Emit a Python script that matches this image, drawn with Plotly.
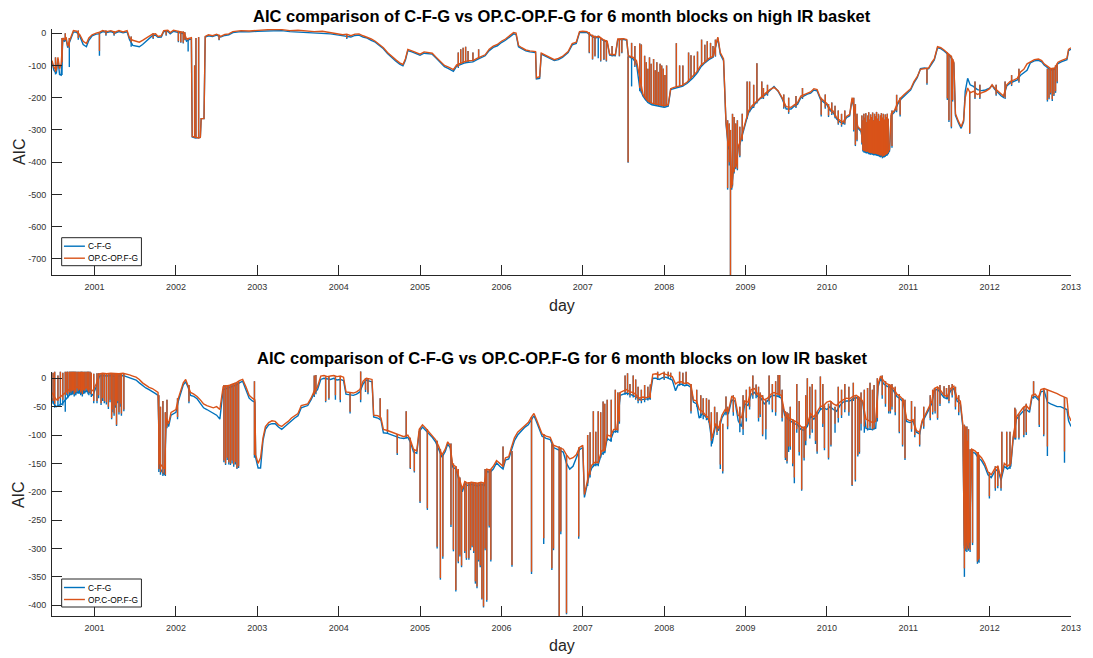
import plotly.graph_objects as go

# ---------------- TOP PANEL (high IR basket) : baseline ----------------
hi_day = [2000.477, 2000.50, 2000.53, 2000.55, 2000.57, 2000.59, 2000.61, 2000.63, 2000.65, 2000.67,
          2000.69, 2000.71, 2000.74, 2000.78, 2000.82, 2000.86, 2000.90, 2000.93, 2000.97, 2001.02,
          2001.05, 2001.10, 2001.15, 2001.20, 2001.25, 2001.30, 2001.35, 2001.40, 2001.43, 2001.47,
          2001.51, 2001.55, 2001.59, 2001.63, 2001.67, 2001.71, 2001.75, 2001.78, 2001.82, 2001.85,
          2001.90, 2001.93, 2001.97, 2002.01, 2002.05, 2002.10, 2002.13, 2002.16, 2002.19, 2002.20,
          2002.24, 2002.28, 2002.30, 2002.31, 2002.345, 2002.36, 2002.40, 2002.45, 2002.50, 2002.55,
          2002.60, 2002.65, 2002.70, 2002.80, 2002.90, 2003.00, 2003.10, 2003.20, 2003.30, 2003.40,
          2003.50, 2003.60, 2003.70, 2003.80, 2003.90, 2004.00, 2004.05, 2004.10, 2004.15, 2004.20,
          2004.25, 2004.30, 2004.35, 2004.40, 2004.45, 2004.50, 2004.55, 2004.60, 2004.65, 2004.70,
          2004.75, 2004.79, 2004.82, 2004.85, 2004.90, 2004.95, 2005.00, 2005.05, 2005.10, 2005.15,
          2005.20, 2005.25, 2005.30, 2005.35, 2005.41, 2005.45, 2005.50, 2005.55, 2005.60, 2005.65,
          2005.70, 2005.75, 2005.80, 2005.85, 2005.90, 2005.95, 2006.00, 2006.05, 2006.10, 2006.15,
          2006.18, 2006.21, 2006.25, 2006.30, 2006.35, 2006.42, 2006.43, 2006.47, 2006.49, 2006.55,
          2006.60, 2006.65, 2006.70, 2006.75, 2006.82, 2006.87, 2006.92, 2006.96, 2007.00, 2007.05,
          2007.10, 2007.15, 2007.20, 2007.25, 2007.30, 2007.33, 2007.40, 2007.43, 2007.50, 2007.54,
          2007.56, 2007.62, 2007.66, 2007.70, 2007.74, 2007.80, 2007.85, 2007.90, 2007.95, 2008.00,
          2008.05, 2008.08, 2008.12, 2008.17, 2008.22, 2008.28, 2008.35, 2008.40, 2008.45, 2008.50,
          2008.55, 2008.60, 2008.66, 2008.69, 2008.73, 2008.76, 2008.79, 2008.81, 2008.83, 2008.85,
          2008.87, 2008.89, 2008.91, 2008.93, 2008.95, 2008.98, 2009.01, 2009.04, 2009.08, 2009.12,
          2009.16, 2009.20, 2009.25, 2009.30, 2009.35, 2009.40, 2009.45, 2009.50, 2009.56, 2009.60,
          2009.64, 2009.68, 2009.72, 2009.76, 2009.80, 2009.84, 2009.88, 2009.92, 2009.96, 2010.00,
          2010.04, 2010.08, 2010.12, 2010.16, 2010.20, 2010.24, 2010.28, 2010.31, 2010.34, 2010.38,
          2010.42, 2010.46, 2010.50, 2010.55, 2010.60, 2010.65, 2010.70, 2010.74, 2010.77, 2010.79,
          2010.83, 2010.87, 2010.91, 2010.95, 2010.99, 2011.03, 2011.07, 2011.11, 2011.15, 2011.20,
          2011.25, 2011.29, 2011.32, 2011.36, 2011.40, 2011.44, 2011.48, 2011.52, 2011.56, 2011.58,
          2011.62, 2011.65, 2011.68, 2011.70, 2011.73, 2011.76, 2011.80, 2011.85, 2011.90, 2011.95,
          2012.00, 2012.03, 2012.06, 2012.10, 2012.14, 2012.17, 2012.21, 2012.25, 2012.30, 2012.34,
          2012.38, 2012.42, 2012.46, 2012.50, 2012.55, 2012.60, 2012.64, 2012.67, 2012.70, 2012.75,
          2012.80, 2012.84, 2012.88, 2012.92, 2012.95, 2012.97, 2013.00]
hi_op = [-85, -105, -115, -75, -110, -95, -15, -20, -12, -40,
         -25, -10, 8, 6, -5, -25, -32, -15, -5, 0,
         2, 8, 5, 8, 3, 8, 4, 8, -15, -22,
         -25, -28, -22, -15, -10, -3, -2, -10, -8, 8,
         9, 2, 9, 7, 5, 2, -18, -15, -14, -320,
         -322, -325, -323, -265, -265, -10, -5, -8, -3, -10,
         -4, -2, 5, 8, 7, 9, 10, 12, 11, 8,
         9, 7, 5, 6, 2, -2, -5, -3, -8, -3,
         -2, -8, -12, -18, -25, -35, -45, -60, -72, -82,
         -92, -97, -80, -50, -55, -60, -65, -58, -60, -62,
         -75, -88, -100, -105, -113, -98, -92, -88, -85, -85,
         -78, -72, -67, -50, -40, -35, -25, -18, -8, 2,
         0, -38, -45, -52, -55, -57, -138, -135, -62, -70,
         -77, -82, -78, -72, -57, -32, -28, 5, 6, 5,
         -5, -12, -10, -20, -25, -65, -67, -18, -17, -20,
         -70, -75, -85, -140, -190, -210, -217, -220, -222, -225,
         -222, -172, -168, -165, -162, -152, -135, -120, -100, -88,
         -78, -72, -12, -60, -80, -275, -350, -330, -480, -420,
         -415, -400, -350, -340, -320, -290, -265, -240, -225, -215,
         -205, -195, -185, -175, -168, -178, -200, -228, -230, -222,
         -215, -195, -190, -185, -182, -172, -175, -200, -210, -218,
         -235, -242, -262, -270, -275, -258, -252, -200, -240, -290,
         -300, -360, -365, -370, -372, -375, -378, -372, -360, -250,
         -240, -215, -200, -190, -180, -172, -150, -135, -112, -110,
         -108, -90, -80, -42, -45, -52, -60, -70, -90, -250,
         -275, -290, -270, -200, -170, -185, -180, -190, -185, -180,
         -172, -160, -170, -180, -190, -195, -160, -150, -145, -140,
         -120, -112, -95, -88, -82, -80, -85, -95, -100, -110,
         -108, -90, -85, -82, -78, -50, -45]
hi_cfg = [-90, -115, -125, -80, -128, -130, -20, -25, -18, -45,
          -30, -15, 4, 3, -10, -35, -42, -22, -8, -3,
          -2, 5, 2, 5, 0, 5, 1, 4, -20, -38,
          -40, -42, -35, -25, -15, -8, -6, -13, -12, 5,
          6, -2, 6, 4, 2, -2, -25, -20, -18, -322,
          -325, -325, -323, -265, -265, -12, -8, -10, -6, -12,
          -7, -5, 2, 5, 4, 6, 7, 9, 8, 5,
          4, 3, 2, 0, -2, -6, -8, -8, -12, -7,
          -6, -12, -15, -22, -28, -38, -48, -63, -76, -86,
          -96, -101, -84, -54, -58, -63, -68, -62, -63, -65,
          -78, -92, -104, -110, -118, -102, -96, -92, -90, -89,
          -82, -76, -70, -54, -44, -39, -29, -22, -12, -2,
          -4, -42, -48, -55, -58, -60, -142, -140, -65, -73,
          -80, -85, -82, -75, -60, -36, -32, 2, 3, 2,
          -8, -15, -12, -22, -28, -68, -70, -20, -19, -22,
          -72, -80, -95, -170, -195, -215, -222, -225, -227, -230,
          -226, -175, -172, -168, -165, -156, -140, -125, -105, -92,
          -82, -75, -15, -65, -85, -280, -360, -340, -485, -425,
          -420, -405, -355, -345, -325, -295, -270, -245, -230, -218,
          -208, -198, -190, -178, -165, -180, -203, -235, -235, -226,
          -220, -200, -194, -189, -186, -176, -179, -204, -214, -222,
          -240, -247, -266, -275, -280, -262, -256, -204, -244, -294,
          -305, -365, -370, -374, -376, -380, -382, -376, -365, -255,
          -245, -220, -205, -195, -185, -176, -154, -138, -110, -108,
          -110, -93, -83, -45, -48, -55, -63, -73, -93, -255,
          -280, -295, -275, -180, -140, -160, -165, -175, -178, -176,
          -170, -162, -173, -184, -194, -199, -164, -155, -150, -145,
          -130, -122, -115, -92, -86, -84, -89, -99, -104, -114,
          -112, -94, -89, -86, -82, -54, -50]

# ---------------- TOP PANEL : single-day jumps ----------------
hs_day = [2000.52, 2000.60, 2000.64, 2000.69, 2000.80, 2001.06, 2001.14, 2001.24, 2001.45, 2001.72,
          2001.88, 2002.03, 2002.06, 2002.09, 2002.11, 2002.15, 2002.23, 2002.246, 2002.279, 2002.53,
          2004.10, 2005.47, 2005.50, 2005.53, 2005.56, 2005.59, 2005.65, 2005.72, 2007.08, 2007.12,
          2007.15, 2007.19, 2007.22, 2007.26, 2007.29, 2007.36, 2007.45, 2007.48, 2007.557, 2007.60,
          2007.64, 2007.70, 2007.72, 2007.76, 2007.78, 2007.80, 2007.82, 2007.84, 2007.87, 2007.89,
          2007.91, 2007.93, 2007.95, 2007.97, 2007.99, 2008.01, 2008.03, 2008.15, 2008.19, 2008.23,
          2008.30, 2008.33, 2008.37, 2008.41, 2008.46, 2008.50, 2008.53, 2008.57, 2008.60, 2008.63,
          2008.78, 2008.80, 2008.815, 2008.84, 2008.86, 2008.88, 2008.90, 2008.93, 2008.96, 2009.02,
          2009.05, 2009.10, 2009.14, 2009.20, 2009.93, 2010.02, 2010.33, 2010.35, 2010.37, 2010.43,
          2010.442, 2010.454, 2010.466, 2010.478, 2010.49, 2010.502, 2010.514, 2010.526, 2010.538, 2010.55,
          2010.562, 2010.574, 2010.586, 2010.598, 2010.61, 2010.622, 2010.634, 2010.646, 2010.658, 2010.67,
          2010.682, 2010.694, 2010.706, 2010.718, 2010.73, 2010.742, 2010.754, 2010.80, 2010.857, 2010.90,
          2011.23, 2011.48, 2011.50, 2011.53, 2011.545, 2011.755, 2012.71, 2012.73, 2012.75, 2012.77,
          2012.79, 2012.81, 2012.83,
          2009.22, 2009.27, 2009.47, 2009.53, 2009.62, 2009.70, 2009.98, 2010.06, 2010.10, 2010.14,
          2010.18, 2010.22, 2011.82, 2011.88, 2012.08, 2012.19, 2012.27, 2012.36]
hs_top = [-75, -15, 0, -15, 8, 0, 8, 6, -10, 0,
          8, 7, 5, 5, 3, -15, -100, -15, -12, -5,
          -3, -60, -50, -45, -42, -55, -60, -50, 3, -5,
          -8, -8, -15, -20, -22, -40, -18, -17, -72, -30,
          -40, -32, -35, -70, -90, -110, -75, -95, -80, -115,
          -90, -120, -95, -100, -110, -130, -100, -31, -100, -100,
          -60, -68, -70, -57, -20, -36, -25, -30, -40, -20,
          -270, -280, -300, -250, -260, -280, -270, -290, -250, -150,
          -150, -160, -93, -150, -200, -220, -200, -220, -250, -255,
          -270, -250, -262, -248, -275, -255, -245, -268, -252, -260,
          -246, -270, -250, -258, -244, -265, -250, -272, -255, -248,
          -262, -250, -268, -252, -260, -250, -265, -240, -191, -200,
          -109, -60, -65, -70, -80, -180, -110, -110, -110, -110,
          -108, -100, -95,
          -170, -160, -190, -200, -195, -170, -190, -215, -225, -240,
          -250, -240, -150, -160, -160, -150, -130, -110]
hs_op = [-120, -90, -20, -45, -15, -55, -5, -5, -28, -15,
         -5, -25, -28, -30, -20, -22, -322, -322, -325, -20,
         -15, -105, -95, -92, -90, -88, -85, -78, -60, -80,
         -70, -15, -85, -80, -85, -70, -70, -60, -400, -78,
         -100, -170, -180, -200, -205, -210, -212, -215, -218, -220,
         -221, -222, -222, -223, -225, -225, -224, -166, -164, -162,
         -148, -140, -130, -118, -98, -88, -82, -76, -72, -70,
         -480, -400, -750, -470, -430, -415, -420, -380, -330, -260,
         -240, -228, -215, -200, -253, -255, -300, -346, -330, -340,
         -362, -365, -366, -367, -368, -366, -370, -371, -372, -370,
         -372, -374, -373, -372, -374, -376, -375, -378, -380, -378,
         -383, -380, -380, -378, -375, -374, -370, -350, -240, -253,
         -155, -202, -270, -290, -207, -310, -207, -200, -185, -205,
         -190, -180, -150,
         -200, -190, -230, -245, -228, -200, -230, -250, -260, -280,
         -285, -280, -200, -200, -190, -200, -160, -150]
hs_cfg = [-128, -130, -25, -105, -20, -70, -8, -8, -42, -18,
          -8, -28, -30, -32, -22, -57, -325, -325, -326, -22,
          -18, -108, -98, -95, -93, -91, -88, -80, -62, -82,
          -72, -78, -88, -83, -88, -72, -72, -62, -402, -165,
          -105, -180, -185, -205, -210, -215, -217, -220, -222, -224,
          -225, -226, -227, -228, -229, -230, -228, -170, -167, -165,
          -152, -145, -135, -123, -102, -92, -86, -80, -75, -73,
          -485, -410, -750, -475, -435, -420, -425, -385, -335, -265,
          -245, -232, -218, -203, -258, -260, -305, -350, -335, -345,
          -367, -370, -371, -372, -373, -371, -375, -376, -377, -375,
          -377, -379, -378, -377, -379, -381, -380, -383, -385, -383,
          -388, -385, -385, -383, -380, -379, -375, -355, -245, -258,
          -160, -207, -275, -295, -212, -312, -212, -205, -190, -210,
          -195, -185, -155,
          -204, -194, -234, -250, -232, -204, -234, -254, -264, -284,
          -290, -284, -204, -204, -194, -204, -164, -154]

# ---------------- BOTTOM PANEL (low IR basket) : baseline ----------------
lo_day = [2000.477, 2000.50, 2000.53, 2000.56, 2000.60, 2000.63, 2000.66, 2000.70, 2000.74, 2000.78,
          2000.82, 2000.86, 2000.90, 2000.94, 2000.98, 2001.02, 2001.06, 2001.10, 2001.15, 2001.20,
          2001.25, 2001.30, 2001.35, 2001.39, 2001.43, 2001.47, 2001.51, 2001.55, 2001.59, 2001.63,
          2001.67, 2001.71, 2001.75, 2001.78, 2001.80, 2001.83, 2001.86, 2001.88, 2001.91, 2001.94,
          2001.97, 2002.00, 2002.03, 2002.06, 2002.09, 2002.12, 2002.15, 2002.18, 2002.22, 2002.26,
          2002.30, 2002.34, 2002.38, 2002.42, 2002.46, 2002.50, 2002.54, 2002.58, 2002.62, 2002.66,
          2002.70, 2002.74, 2002.78, 2002.82, 2002.86, 2002.90, 2002.94, 2002.97, 2002.98, 2003.01,
          2003.04, 2003.07, 2003.10, 2003.14, 2003.18, 2003.22, 2003.26, 2003.30, 2003.34, 2003.38,
          2003.42, 2003.46, 2003.50, 2003.54, 2003.58, 2003.62, 2003.66, 2003.70, 2003.74, 2003.78,
          2003.82, 2003.86, 2003.90, 2003.94, 2003.98, 2004.02, 2004.06, 2004.09, 2004.14, 2004.18,
          2004.22, 2004.26, 2004.30, 2004.34, 2004.38, 2004.41, 2004.43, 2004.48, 2004.52, 2004.55,
          2004.60, 2004.65, 2004.70, 2004.75, 2004.80, 2004.85, 2004.88, 2004.92, 2004.96, 2004.99,
          2005.03, 2005.07, 2005.11, 2005.15, 2005.19, 2005.23, 2005.27, 2005.31, 2005.34, 2005.37,
          2005.40, 2005.44, 2005.48, 2005.52, 2005.55, 2005.59, 2005.63, 2005.67, 2005.71, 2005.75,
          2005.79, 2005.82, 2005.86, 2005.90, 2005.94, 2005.98, 2006.02, 2006.05, 2006.09, 2006.12,
          2006.16, 2006.20, 2006.25, 2006.29, 2006.33, 2006.37, 2006.40, 2006.43, 2006.47, 2006.50,
          2006.55, 2006.60, 2006.64, 2006.68, 2006.72, 2006.76, 2006.80, 2006.84, 2006.88, 2006.92,
          2006.96, 2007.00, 2007.02, 2007.05, 2007.08, 2007.11, 2007.15, 2007.19, 2007.23, 2007.27,
          2007.30, 2007.34, 2007.38, 2007.42, 2007.46, 2007.50, 2007.54, 2007.58, 2007.62, 2007.66,
          2007.70, 2007.74, 2007.78, 2007.82, 2007.86, 2007.90, 2007.94, 2007.98, 2008.02, 2008.06,
          2008.10, 2008.14, 2008.17, 2008.21, 2008.25, 2008.29, 2008.33, 2008.36, 2008.40, 2008.43,
          2008.47, 2008.51, 2008.55, 2008.59, 2008.63, 2008.67, 2008.71, 2008.75, 2008.79, 2008.83,
          2008.87, 2008.91, 2008.95, 2008.99, 2009.03, 2009.07, 2009.11, 2009.15, 2009.19, 2009.23,
          2009.27, 2009.31, 2009.35, 2009.40, 2009.44, 2009.48, 2009.52, 2009.56, 2009.60, 2009.64,
          2009.68, 2009.72, 2009.76, 2009.80, 2009.84, 2009.88, 2009.92, 2009.96, 2010.00, 2010.04,
          2010.08, 2010.12, 2010.16, 2010.20, 2010.24, 2010.28, 2010.32, 2010.36, 2010.40, 2010.44,
          2010.48, 2010.52, 2010.56, 2010.60, 2010.63, 2010.66, 2010.70, 2010.74, 2010.78, 2010.82,
          2010.86, 2010.90, 2010.94, 2010.98, 2011.02, 2011.06, 2011.10, 2011.14, 2011.17, 2011.21,
          2011.25, 2011.29, 2011.32, 2011.36, 2011.40, 2011.44, 2011.48, 2011.52, 2011.56, 2011.60,
          2011.64, 2011.67, 2011.69, 2011.72, 2011.75, 2011.78, 2011.82, 2011.86, 2011.90, 2011.94,
          2011.98, 2012.02, 2012.06, 2012.10, 2012.14, 2012.18, 2012.22, 2012.26, 2012.29, 2012.33,
          2012.37, 2012.41, 2012.45, 2012.49, 2012.52, 2012.56, 2012.60, 2012.63, 2012.67, 2012.71,
          2012.75, 2012.79, 2012.83, 2012.87, 2012.91, 2012.95, 2012.97, 2013.00]
lo_op = [-25, -30, -38, -35, -30, -25, -22, -18, -20, -15,
         -18, -20, -15, -18, -22, -10, 8, 9, 8, 9,
         8, 8, 9, 8, 6, 4, 2, -2, -8, -12,
         -16, -18, -22, -25, -150, -155, -160, -70, -80, -60,
         -58, -55, -35, -20, -8, -2, -12, -25, -28, -32,
         -38, -45, -48, -50, -52, -50, -55, -15, -14, -12,
         -10, -8, -4, -2, -15, -30, -35, -38, -135, -150,
         -140, -105, -85, -78, -75, -76, -82, -85, -80, -76,
         -70, -66, -62, -48, -46, -45, -35, -22, -15, 4,
         5, 3, 4, 5, 3, 4, 2, -24, -25, -26,
         -24, -20, -5, 0, -1, -2, -65, -66, -70, -90,
         -92, -95, -97, -100, -103, -100, -108, -125, -128, -90,
         -82, -88, -95, -100, -108, -120, -135, -125, -112, -118,
         -152, -156, -178, -195, -182, -185, -183, -184, -185, -183,
         -185, -160, -162, -155, -145, -150, -155, -140, -138, -123,
         -105, -95, -88, -82, -78, -68, -62, -72, -85, -98,
         -102, -104, -118, -120, -122, -125, -135, -142, -140, -135,
         -122, -118, -205, -185, -165, -153, -148, -148, -128, -125,
         -100, -102, -90, -90, -25, -22, -20, -24, -25, -30,
         -35, -33, -34, -32, 7, 8, 6, 9, 7, 5,
         3, -10, -7, -6, -9, -8, -12, -38, -40, -55,
         -58, -65, -70, -105, -80, -88, -65, -55, -58, -32,
         -35, -65, -70, -40, -42, -20, -18, -28, -30, -38,
         -35, -28, -25, -28, -30, -60, -68, -72, -75, -78,
         -85, -88, -80, -62, -68, -60, -50, -48, -42, -40,
         -45, -48, -42, -38, -35, -36, -32, -30, -34, -40,
         -72, -75, -78, -76, -10, 4, -5, -10, -12, -18,
         -28, -32, -38, -72, -75, -73, -92, -95, -75, -64,
         -52, -40, -18, -15, -22, -30, -32, -18, -14, -35,
         -40, -80, -295, -200, -290, -125, -128, -135, -140, -150,
         -165, -170, -160, -155, -175, -150, -155, -150, -102, -68,
         -60, -52, -48, -55, -30, -28, -35, -20, -18, -20,
         -22, -25, -27, -30, -32, -35, -65, -75]
lo_cfg = [-35, -45, -50, -48, -45, -40, -35, -28, -27, -25,
          -26, -27, -22, -25, -30, -15, 4, 5, 4, 5,
          3, 4, 5, 3, 1, -1, -3, -8, -13, -17,
          -20, -23, -27, -30, -158, -165, -170, -75, -85, -65,
          -62, -60, -40, -25, -12, -6, -16, -30, -32, -36,
          -45, -52, -55, -58, -62, -65, -72, -20, -18, -16,
          -14, -12, -8, -5, -20, -35, -40, -42, -140, -158,
          -158, -110, -90, -82, -80, -80, -86, -90, -85, -80,
          -74, -70, -66, -52, -50, -48, -38, -26, -20, -2,
          0, -1, -2, 0, -3, -2, -4, -28, -29, -30,
          -28, -24, -10, -3, -5, -6, -68, -70, -74, -96,
          -97, -100, -102, -105, -106, -104, -112, -130, -132, -94,
          -86, -92, -99, -104, -112, -124, -139, -129, -116, -122,
          -156, -160, -182, -200, -186, -189, -187, -188, -190, -187,
          -189, -164, -166, -160, -149, -155, -160, -144, -142, -128,
          -110, -100, -92, -86, -82, -72, -66, -76, -90, -102,
          -106, -108, -122, -125, -127, -130, -150, -160, -155, -140,
          -126, -122, -210, -190, -170, -158, -152, -152, -133, -130,
          -106, -110, -94, -94, -30, -28, -26, -28, -30, -33,
          -38, -37, -37, -36, 0, 0, -2, 1, 2, 0,
          -3, -22, -12, -10, -13, -12, -16, -42, -45, -70,
          -62, -68, -74, -115, -84, -92, -70, -60, -62, -38,
          -40, -75, -85, -45, -48, -28, -25, -32, -35, -45,
          -40, -32, -30, -32, -35, -65, -72, -76, -80, -82,
          -90, -92, -85, -66, -72, -65, -55, -52, -55, -50,
          -55, -58, -48, -42, -40, -40, -36, -34, -38, -42,
          -88, -90, -90, -88, -15, 0, -10, -14, -16, -22,
          -32, -36, -42, -76, -78, -76, -95, -98, -78, -68,
          -56, -44, -22, -19, -26, -34, -36, -22, -18, -40,
          -45, -85, -300, -210, -300, -130, -132, -140, -145, -155,
          -170, -175, -165, -160, -180, -155, -160, -155, -106, -72,
          -65, -58, -55, -60, -34, -32, -38, -24, -22, -42,
          -45, -48, -50, -50, -52, -55, -75, -85]

# ---------------- BOTTOM PANEL : single-day jumps ----------------
ls_day = [2000.49, 2000.51, 2000.55, 2000.58, 2000.61, 2000.64, 2000.67, 2000.69, 2000.71, 2000.73,
          2000.75, 2000.77, 2000.80, 2000.83, 2000.85, 2000.88, 2000.91, 2000.93, 2000.96, 2000.99,
          2001.03, 2001.08, 2001.12, 2001.17, 2001.21, 2001.24, 2001.27, 2001.30, 2001.33, 2001.36,
          2001.79, 2001.81, 2001.84, 2001.87, 2001.89, 2002.02, 2002.16, 2002.59, 2002.61, 2002.63,
          2002.65, 2002.67, 2002.69, 2002.71, 2002.73, 2002.75, 2002.77, 2002.965, 2003.70, 2003.72,
          2003.84, 2003.88, 2003.96, 2004.02, 2004.14, 2004.27, 2004.33, 2004.36, 2004.51, 2004.60,
          2004.72, 2004.83, 2004.88, 2004.93, 2005.00, 2005.09, 2005.21, 2005.25, 2005.28, 2005.38,
          2005.41, 2005.44, 2005.47, 2005.49, 2005.51, 2005.55, 2005.57, 2005.60, 2005.62, 2005.64,
          2005.66, 2005.68, 2005.70, 2005.72, 2005.74, 2005.76, 2005.78, 2005.80, 2005.82, 2005.85,
          2005.87, 2006.02, 2006.13, 2006.37, 2006.52, 2006.62, 2006.64, 2006.71, 2006.73, 2006.80,
          2006.95, 2007.06, 2007.09, 2007.13, 2007.16, 2007.19, 2007.22, 2007.25, 2007.27, 2007.30,
          2007.35, 2007.40, 2007.43, 2007.45, 2007.55, 2007.65, 2007.83, 2007.92, 2008.00, 2008.19,
          2008.23, 2008.27, 2008.33, 2008.52, 2008.55, 2008.69, 2008.72, 2008.76, 2008.78, 2008.93,
          2009.13, 2009.18, 2009.21, 2009.25, 2009.40, 2009.42, 2009.49, 2009.51, 2009.53, 2009.58,
          2009.60, 2009.69, 2009.72, 2009.76, 2009.88, 2009.92, 2009.97, 2010.02, 2010.05, 2010.10,
          2010.31, 2010.325, 2010.35, 2010.38, 2010.40, 2010.50, 2010.53, 2010.56, 2010.58, 2010.76,
          2010.78, 2010.89, 2010.93, 2010.96, 2011.14, 2011.33, 2011.36, 2011.44, 2011.47, 2011.69,
          2011.70, 2011.71, 2011.72, 2011.73, 2011.74, 2011.76, 2011.79, 2011.85, 2011.86, 2011.87,
          2011.997, 2012.07, 2012.10, 2012.14, 2012.15, 2012.21, 2012.25, 2012.31, 2012.32, 2012.36,
          2012.42, 2012.45, 2012.54, 2012.61, 2012.665, 2012.71, 2012.92,
          2000.66, 2000.70, 2000.72, 2000.74, 2000.76, 2000.785, 2000.815, 2000.84, 2000.865, 2000.895,
          2000.92, 2000.945, 2001.05, 2001.10, 2001.145, 2001.19, 2001.225, 2001.255, 2001.285, 2001.315,
          2007.52, 2007.58, 2007.62, 2007.68, 2007.72, 2007.76, 2007.80, 2008.05, 2008.08, 2008.40,
          2008.45, 2008.48, 2008.58, 2008.62, 2008.65, 2008.85, 2008.97, 2009.01, 2009.05, 2009.09,
          2009.16, 2009.29, 2009.33, 2009.37, 2009.45, 2009.55, 2009.63, 2009.66, 2009.74, 2009.79,
          2009.82, 2009.86, 2009.95, 2010.14, 2010.18, 2010.22, 2010.27, 2010.42, 2010.46, 2010.62,
          2010.68, 2010.72, 2010.80, 2010.84, 2011.04, 2011.08, 2011.19, 2011.27, 2011.30, 2011.39,
          2011.50, 2011.54, 2011.58, 2011.62]
ls_top = [10, 12, 5, 12, 10, 12, 12, 12, 12, 12,
          12, 12, 12, 12, 12, 12, 12, 12, 10, 8,
          9, 9, 9, 9, 9, 9, 9, 9, 9, 9,
          -30, -50, -40, -60, -38, -35, -12, -12, -12, -12,
          -12, -12, -10, -10, -8, -8, -5, -5, 5, 6,
          3, 4, 4, 3, -25, 15, 0, 0, -35, -55,
          -98, -58, -105, -125, -88, -90, -110, -125, -135, -115,
          -150, -155, -160, -175, -190, -182, -185, -183, -183, -183,
          -184, -184, -185, -184, -183, -185, -185, -160, -160, -160,
          -160, -120, -128, -68, -98, -115, -118, -120, -122, -135,
          -122, -100, -95, -58, -94, -58, -60, -41, -45, -38,
          -38, -20, -25, -25, 9, -2, -11, 12, 12, 12,
          10, 12, -10, -35, -38, -75, -80, -32, -50, -50,
          -11, -25, -30, -38, 6, 6, -58, -60, -62, -72,
          -75, -85, -85, 0, -60, 3, -48, -45, -40, -50,
          -36, -8, -32, -32, -35, -17, -8, -20, -12, -10,
          -12, -28, -35, -38, -95, -18, -16, -14, -17, -82,
          -85, -100, -85, -110, -90, -125, -125, -130, -130, -135,
          -165, -155, -155, -170, -94, -94, -94, -52, -55, -64,
          -50, -45, -5, -30, -18, -20, -33,
          12, 12, 12, 12, 12, 12, 12, 12, 12, 12,
          12, 12, 9, 9, 9, 9, 9, 9, 9, 9,
          5, -10, 5, -15, -20, -12, -15, 12, 10, -20,
          -30, -35, -60, -50, -60, -30, -30, -20, -15, 5,
          -15, 5, -10, -5, -20, -50, -10, -40, -30, -15,
          -10, -20, -10, -15, -20, -10, -15, -25, -20, 0,
          5, -5, -10, -15, -40, -50, -50, -30, -20, -12,
          -12, -10, -15, -30]
ls_op = [-40, -45, -40, -35, -38, -30, -28, -25, -25, -22,
         -28, -25, -22, -25, -28, -22, -20, -25, -28, -40,
         -40, -44, -40, -50, -70, -62, -82, -60, -62, -55,
         -160, -165, -168, -170, -85, -68, -41, -145, -150, -140,
         -148, -150, -145, -152, -148, -158, -155, -135, -30, -25,
         -40, -35, -30, -38, -59, -38, -20, -25, -68, -94,
         -132, -103, -158, -164, -217, -229, -297, -352, -314, -258,
         -302, -373, -323, -311, -330, -305, -317, -317, -300, -295,
         -305, -358, -367, -320, -330, -388, -402, -300, -391, -260,
         -320, -155, -329, -341, -282, -335, -300, -420, -270, -414,
         -279, -185, -170, -150, -150, -150, -135, -130, -128, -105,
         -105, -92, -92, -76, -26, -35, -35, 0, 0, -10,
         -10, -10, -58, -70, -75, -152, -164, -60, -85, -80,
         -30, -64, -99, -90, -28, -30, -140, -146, -120, -150,
         -175, -196, -140, -80, -129, -50, -123, -140, -117, -80,
         -188, -36, -179, -135, -130, -88, -85, -90, -88, -58,
         -58, -94, -117, -141, -117, -58, -70, -30, -34, -335,
         -300, -290, -302, -295, -300, -302, -290, -323, -320, -318,
         -208, -194, -190, -194, -165, -155, -155, -105, -105, -105,
         -100, -95, -32, -82, -99, -120, -129,
         -24, -20, -22, -20, -24, -18, -20, -22, -20, -18,
         -22, -20, -30, -35, -42, -38, -55, -48, -40, -45,
         -25, -30, -30, -40, -40, -38, -35, 3, 2, -45,
         -62, -65, -110, -85, -95, -60, -90, -70, -50, -30,
         -70, -40, -55, -60, -70, -120, -90, -130, -110, -100,
         -90, -110, -80, -70, -65, -55, -60, -80, -85, -70,
         -30, -45, -50, -60, -90, -100, -85, -70, -60, -45,
         -40, -30, -50, -60]
ls_cfg = [-45, -52, -50, -48, -48, -59, -35, -30, -30, -28,
          -32, -30, -27, -30, -32, -27, -25, -30, -33, -44,
          -44, -47, -44, -54, -72, -66, -84, -64, -66, -58,
          -165, -170, -172, -172, -88, -72, -44, -148, -153, -144,
          -152, -153, -150, -156, -152, -160, -158, -140, -33, -28,
          -42, -38, -38, -42, -62, -42, -24, -28, -72, -98,
          -135, -106, -160, -166, -220, -232, -300, -355, -318, -262,
          -305, -376, -326, -314, -333, -308, -320, -320, -303, -298,
          -308, -362, -370, -323, -333, -390, -404, -303, -394, -263,
          -323, -158, -332, -345, -292, -338, -303, -420, -275, -416,
          -283, -190, -175, -155, -155, -155, -140, -135, -132, -110,
          -112, -96, -96, -80, -30, -38, -38, -3, -3, -13,
          -13, -13, -62, -74, -78, -160, -168, -65, -90, -95,
          -35, -68, -102, -108, -32, -34, -144, -150, -130, -155,
          -185, -198, -145, -85, -133, -55, -127, -143, -120, -96,
          -190, -40, -182, -138, -133, -92, -90, -92, -90, -62,
          -62, -97, -120, -144, -120, -62, -73, -34, -37, -350,
          -305, -295, -306, -300, -304, -306, -294, -327, -324, -325,
          -212, -198, -194, -198, -170, -160, -160, -108, -108, -108,
          -104, -100, -36, -86, -102, -137, -149,
          -30, -26, -28, -26, -30, -24, -26, -28, -26, -24,
          -28, -26, -35, -40, -46, -42, -60, -52, -44, -50,
          -29, -34, -34, -44, -44, -42, -39, 0, -1, -50,
          -70, -72, -120, -90, -100, -66, -100, -76, -55, -36,
          -76, -46, -60, -66, -76, -126, -96, -136, -118, -106,
          -96, -116, -86, -78, -70, -60, -66, -92, -96, -76,
          -36, -50, -55, -65, -94, -104, -89, -74, -64, -49,
          -44, -34, -55, -65]

year_ticks = [2001, 2002, 2003, 2004, 2005, 2006, 2007, 2008, 2009, 2010, 2011, 2012, 2013]
hi_yticks = [0, -100, -200, -300, -400, -500, -600, -700]
lo_yticks = [0, -50, -100, -150, -200, -250, -300, -350, -400]
series_names = ["C-F-G", "OP.C-OP.F-G"]

BLUE = "#0072BD"
ORANGE = "#D95319"
AX = "#262626"
FONT = "Liberation Sans, Arial, Helvetica, sans-serif"
LW = 1.4

# page geometry (pixels) used to place the hand-made legends
W, H = 1093, 658
ML, MR, MT, MB = 52, 19, 29, 42
PW, PH = W - ML - MR, H - MT - MB


def px(x):
    return (x - ML) / PW


def py(y):
    return (H - MB - y) / PH


def jumps(xs, tops, bots):
    X, Y = [], []
    for x, t, b in zip(xs, tops, bots):
        X.extend([x, x, None])
        Y.extend([t, b, None])
    return X, Y


fig = go.Figure()


def add_panel(xa, ya, day, op, cfg, sday, stop, sop, scfg):
    fig.add_trace(go.Scatter(x=day, y=cfg, mode="lines", name=series_names[0],
                             line=dict(color=BLUE, width=LW), xaxis=xa, yaxis=ya, showlegend=False))
    X, Y = jumps(sday, stop, scfg)
    fig.add_trace(go.Scatter(x=X, y=Y, mode="lines", line=dict(color=BLUE, width=LW),
                             xaxis=xa, yaxis=ya, showlegend=False, hoverinfo="skip"))
    fig.add_trace(go.Scatter(x=day, y=op, mode="lines", name=series_names[1],
                             line=dict(color=ORANGE, width=LW), xaxis=xa, yaxis=ya, showlegend=False))
    X, Y = jumps(sday, stop, sop)
    fig.add_trace(go.Scatter(x=X, y=Y, mode="lines", line=dict(color=ORANGE, width=LW),
                             xaxis=xa, yaxis=ya, showlegend=False, hoverinfo="skip"))


add_panel("x", "y", hi_day, hi_op, hi_cfg, hs_day, hs_top, hs_op, hs_cfg)
add_panel("x2", "y2", lo_day, lo_op, lo_cfg, ls_day, ls_top, ls_op, ls_cfg)

common_ax = dict(showline=True, linecolor=AX, linewidth=1, ticks="inside", ticklen=10,
                 tickwidth=1, tickcolor=AX, showgrid=False, zeroline=False,
                 tickfont=dict(size=9, color="#333333", family=FONT))
xax = dict(range=[2000.477, 2013.0], tickvals=year_ticks,
           ticktext=[str(v) for v in year_ticks], ticklabelstandoff=3, **common_ax)

fig.update_layout(
    width=W, height=H,
    margin=dict(l=ML, r=MR, t=MT, b=MB),
    paper_bgcolor="white", plot_bgcolor="white",
    font=dict(family=FONT, color=AX),
    showlegend=False,
    xaxis=dict(domain=[0, 1], anchor="y", **xax),
    yaxis=dict(domain=[py(275.1), 1.0], anchor="x", range=[-750, 13], tickvals=hi_yticks,
               ticktext=[str(v) for v in hi_yticks], ticklabelstandoff=3, **common_ax),
    xaxis2=dict(domain=[0, 1], anchor="y2", **xax),
    yaxis2=dict(domain=[0, py(371.5)], anchor="x2", range=[-419, 12], tickvals=lo_yticks,
                ticktext=[str(v) for v in lo_yticks], ticklabelstandoff=3, **common_ax),
)

ann_common = dict(xref="paper", yref="paper", showarrow=False)
titles = ["AIC comparison of C-F-G vs OP.C-OP.F-G for 6 month blocks on high IR basket",
          "AIC comparison of C-F-G vs OP.C-OP.F-G for 6 month blocks on low IR basket"]
for t, ty in zip(titles, [16, 358]):
    fig.add_annotation(x=0.5, y=py(ty), yanchor="middle", xanchor="center", text="<b>" + t + "</b>",
                       font=dict(size=16.5, color="black", family=FONT), **ann_common)
for ty in [305, 645]:
    fig.add_annotation(x=0.5, y=py(ty), yanchor="middle", xanchor="center", text="day",
                       font=dict(size=16, color=AX, family=FONT), **ann_common)
for ty in [152, 495]:
    fig.add_annotation(x=px(19), y=py(ty), yanchor="middle", xanchor="center", text="AIC",
                       textangle=-90, font=dict(size=16, color=AX, family=FONT), **ann_common)

# hand-made legends (MATLAB style, compact box)
for top in [237.7, 579.0]:
    fig.add_shape(type="rect", xref="paper", yref="paper", x0=px(61.7), x1=px(141.7),
                  y0=py(top), y1=py(top + 28), line=dict(color=AX, width=1), fillcolor="white",
                  layer="above")
    for k, (name, col) in enumerate(zip(series_names, [BLUE, ORANGE])):
        yy = top + 8.5 + 12 * k
        fig.add_shape(type="line", xref="paper", yref="paper", x0=px(64), x1=px(85),
                      y0=py(yy), y1=py(yy), line=dict(color=col, width=1.4), layer="above")
        fig.add_annotation(x=px(86), y=py(yy), xanchor="left", yanchor="middle", text=name,
                           font=dict(size=8.4, color="black", family=FONT), **ann_common)

fig.write_html("out.html")
